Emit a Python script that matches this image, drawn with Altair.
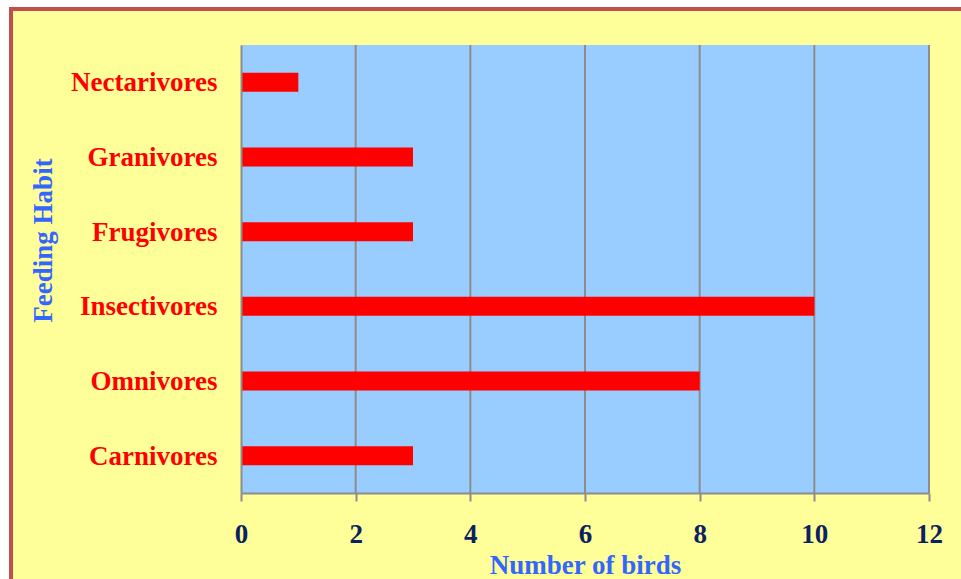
import altair as alt
import pandas as pd

# Bird counts by feeding habit
habits = ["Nectarivores", "Granivores", "Frugivores", "Insectivores", "Omnivores", "Carnivores"]
counts = [1, 3, 3, 10, 8, 3]
grid_values = [2, 4, 6, 8, 10, 12]
tick_values = [0, 2, 4, 6, 8, 10, 12]

birds = pd.DataFrame({"habit": habits, "birds": counts})
grid = pd.DataFrame({"birds": grid_values})
one = pd.DataFrame({"k": [0]})

W, H = 688, 448
SERIF = "Liberation Serif"
GRAY = "#8c8c8c"
FS = 27

x_scale = alt.Scale(domain=[0, 12], nice=False, zero=True)

# Yellow panel with a red-brown frame around the whole figure
frame = alt.Chart(one).mark_rect(
    fill="#FFFF99", stroke="#C0504D", strokeWidth=4
).encode(
    x=alt.value(-230), x2=alt.value(1000),
    y=alt.value(-36), y2=alt.value(700),
)

# Light blue plotting area
plot_bg = alt.Chart(one).mark_rect(fill="#99CCFF").encode(
    x=alt.value(0), x2=alt.value("width"),
    y=alt.value(0), y2=alt.value("height"),
)

# Vertical gridlines
gridlines = alt.Chart(grid).mark_rule(color=GRAY, strokeWidth=2).encode(
    x=alt.X("birds:Q", scale=x_scale),
    y=alt.value(0), y2=alt.value("height"),
)

bars = alt.Chart(birds).mark_bar(color="#FF0000", size=19).encode(
    x=alt.X(
        "birds:Q",
        scale=x_scale,
        axis=alt.Axis(
            values=tick_values,
            format="d",
            labelFlush=False,
            grid=False,
            zindex=1,
            domainColor=GRAY, domainWidth=2,
            tickColor=GRAY, tickWidth=2, tickSize=8,
            labelFont=SERIF, labelFontSize=FS, labelFontWeight="bold",
            labelColor="#0B2160", labelPadding=20,
            title="Number of birds",
            titleFont=SERIF, titleFontSize=FS, titleFontWeight="bold",
            titleColor="#3366FF",
            titleX=W / 2, titleY=72, titleBaseline="middle",
            titleAlign="center",
        ),
    ),
    y=alt.Y(
        "habit:N",
        sort=habits,
        axis=alt.Axis(
            ticks=False,
            grid=False,
            zindex=1,
            domainColor=GRAY, domainWidth=2,
            labelFont=SERIF, labelFontSize=FS, labelFontWeight="bold",
            labelColor="#FF0000", labelPadding=24, labelOffset=1,
            title="Feeding Habit",
            titleFont=SERIF, titleFontSize=FS, titleFontWeight="bold",
            titleColor="#3366FF",
            titleAngle=270, titleX=-198, titleY=195,
            titleAlign="center", titleBaseline="middle",
        ),
    ),
)

chart = alt.layer(frame, plot_bg, gridlines, bars).properties(
    width=W,
    height=H,
    padding={"left": 241, "top": 45, "right": 32, "bottom": 86},
    autosize=alt.AutoSizeParams(type="none"),
    background="white",
).configure_view(stroke=None)

chart.save("out.html", embed_options={"renderer": "svg", "actions": False})
